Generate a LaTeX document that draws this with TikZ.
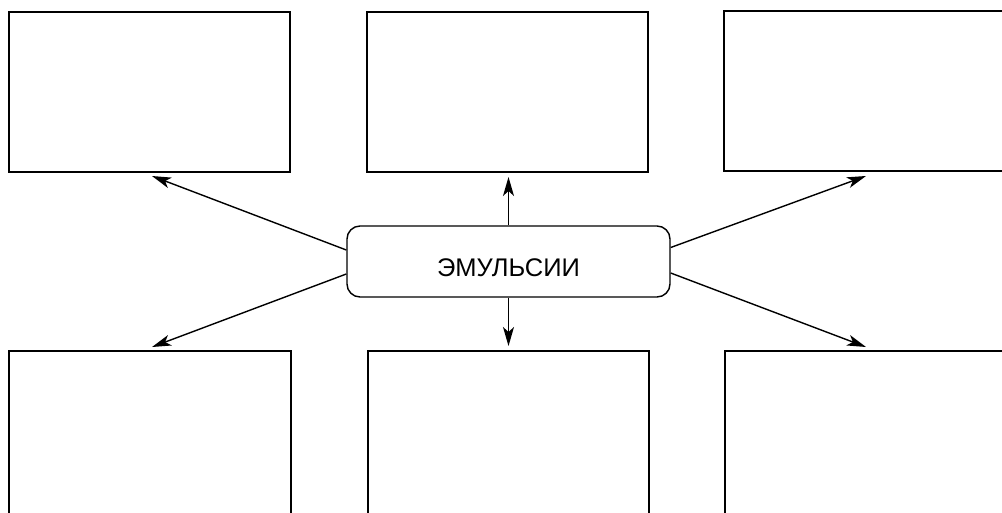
\documentclass[tikz,border=0pt]{standalone}
\usepackage{fontspec}
\setmainfont{Liberation Sans}
\usetikzlibrary{arrows.meta}
\begin{document}
\begin{tikzpicture}[x=1pt,y=-1pt,
  box/.style={draw=black,line width=1.5pt,rectangle,inner sep=0pt},
  hub/.style={draw=black,line width=1.4pt,rounded corners=13pt,minimum width=323pt,minimum height=71pt,inner sep=0pt,text height=29pt,text depth=0pt,font=\fontsize{25.5}{28}\selectfont},
  arr/.style={line width=1.4pt,-{Stealth[length=19pt,width=11pt,inset=5pt]}}]
\useasboundingbox[fill=white] (0,0) rectangle (1002,512);
\clip (0,0) rectangle (1002,512);
% boxes
\node[box,minimum width=281pt,minimum height=160pt] (tl) at (149.5,92) {};
\node[box,minimum width=281pt,minimum height=160pt] (tm) at (507.5,92) {};
\node[box,minimum width=290pt,minimum height=160pt] (tr) at (869,91) {};
\node[box,minimum width=282pt,minimum height=166pt] (bl) at (150,434) {};
\node[box,minimum width=281pt,minimum height=166pt] (bm) at (508.5,434) {};
\node[box,minimum width=290pt,minimum height=166pt] (br) at (870,434) {};
% hub
\node[hub] (c) at (508.5,261.5) {ЭМУЛЬСИИ};
% arrow tips
\coordinate (ttl) at (152,176);
\coordinate (tbl) at (152,347);
\coordinate (ttm) at (508.5,177);
\coordinate (tbm) at (508.5,346);
\coordinate (ttr) at (866,176);
\coordinate (tbr) at (866,347);
\draw[arr] ([yshift=11.5pt]c.west) -- (ttl);
\draw[arr] ([yshift=-12.5pt]c.west) -- (tbl);
\draw[arr] (c.north) -- (ttm);
\draw[arr] (c.south) -- (tbm);
\draw[arr] ([yshift=14pt]c.east) -- (ttr);
\draw[arr] ([yshift=-11.5pt]c.east) -- (tbr);
\end{tikzpicture}
\end{document}
